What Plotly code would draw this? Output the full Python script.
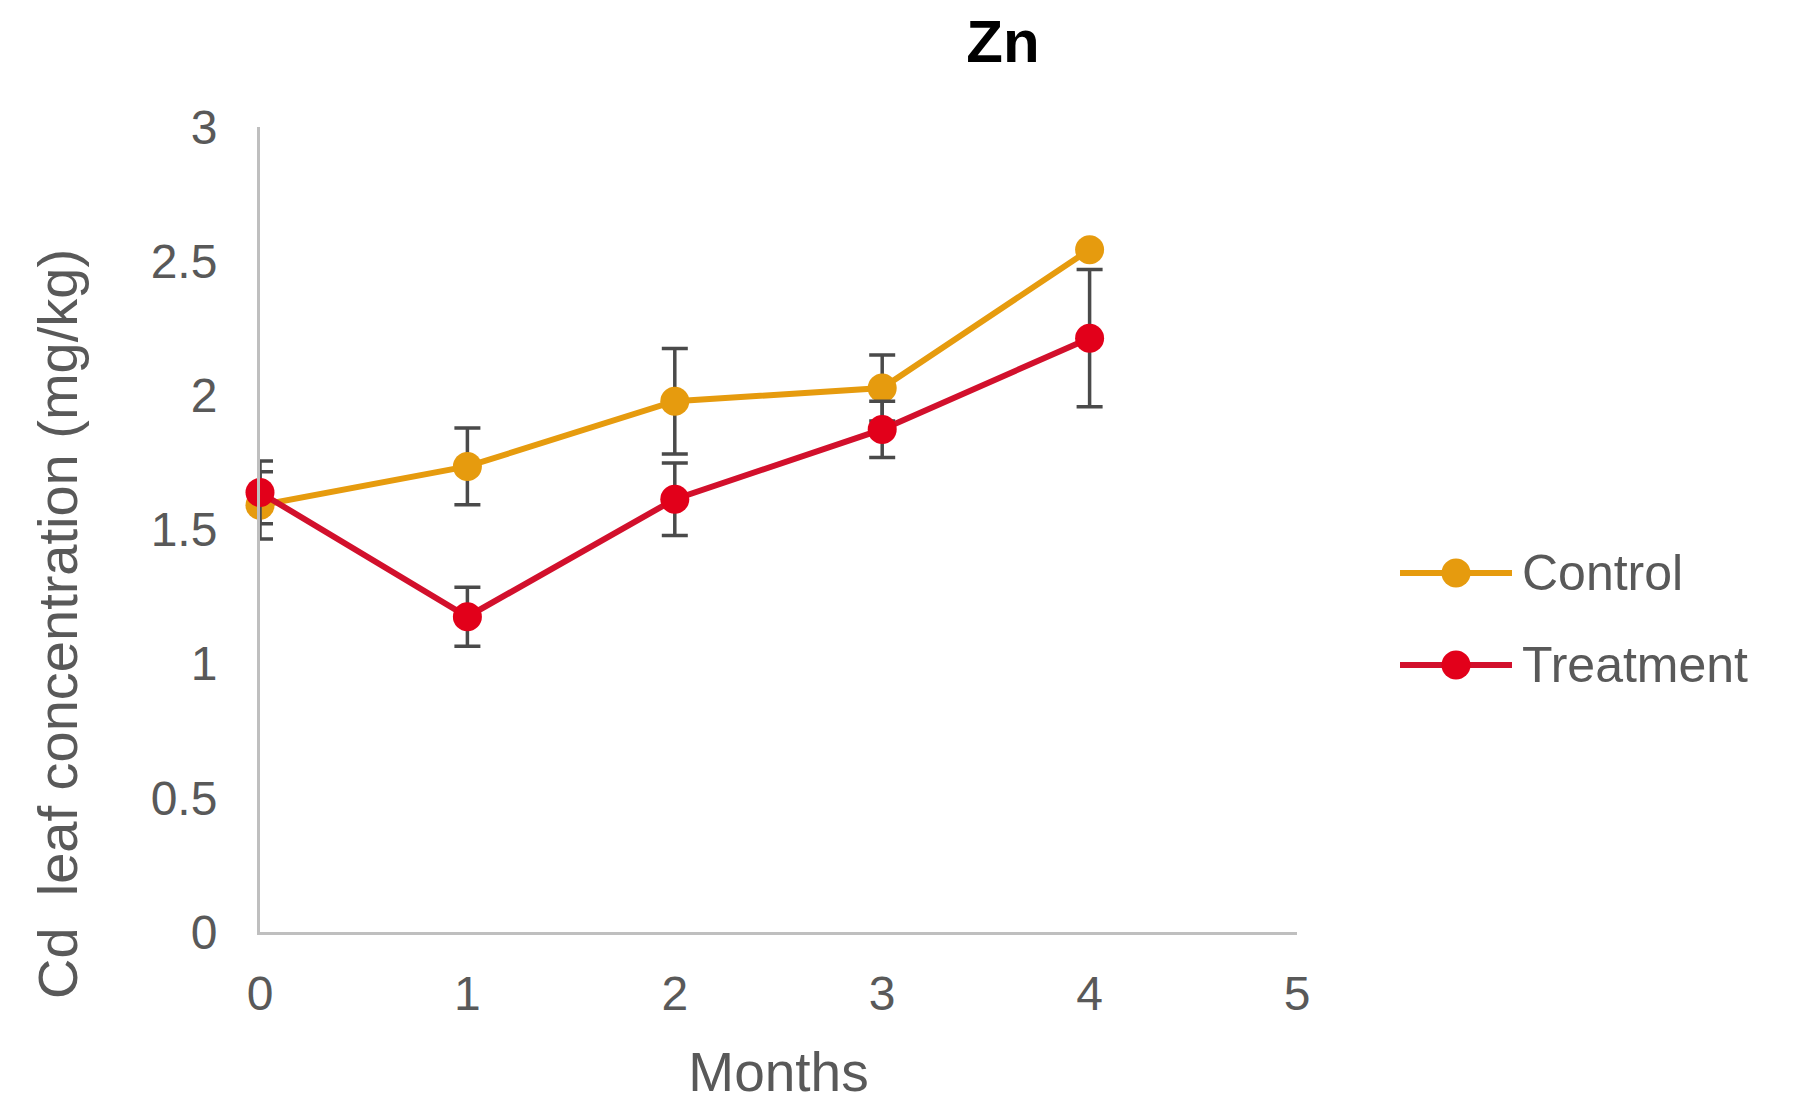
import plotly.graph_objects as go

# Monthly Zn-plot data: mean leaf concentration with standard error
months = [0, 1, 2, 3, 4]
control = [1.59, 1.735, 1.978, 2.027, 2.543]
control_err = [0.125, 0.143, 0.197, 0.123, 0.0]
treatment = [1.638, 1.175, 1.613, 1.873, 2.213]
treatment_err = [0.117, 0.11, 0.135, 0.105, 0.256]

series_names = ["Control", "Treatment"]
x_ticks = [0, 1, 2, 3, 4, 5]
y_ticks = [0, 0.5, 1, 1.5, 2, 2.5, 3]
y_tick_text = ["0", "0.5", "1", "1.5", "2", "2.5", "3"]

ORANGE = "#E69B0E"
RED = "#E2001A"
RED_LINE = "#D2102C"
ERR = "#4A4A4A"
TEXT = "#595959"
AXIS = "#BFBFBF"
FONT = "Arial, Liberation Sans, sans-serif"
W, H = 1798, 1103
ML, MR, MT, MB = 260, 501, 127, 171
PW, PH = W - ML - MR, H - MT - MB


def px(x):
    # pixel column -> paper x (paper spans the plot area)
    return (x - ML) / PW


def py(y):
    # pixel row -> paper y
    return (H - MB - y) / PH


fig = go.Figure()

for name, ys, errs, lc, mc in [
    (series_names[0], control, control_err, ORANGE, ORANGE),
    (series_names[1], treatment, treatment_err, RED_LINE, RED),
]:
    fig.add_trace(go.Scatter(
        x=months, y=ys, name=name, mode="lines+markers",
        line=dict(color=lc, width=6),
        marker=dict(color=mc, size=29),
        error_y=dict(type="data", array=errs, visible=True,
                     color=ERR, thickness=3.5, width=13),
        cliponaxis=False, showlegend=False,
    ))

# Legend keys drawn as shapes so the key line is as long as in the chart style
shapes = []
annotations = []
key_x0, key_x1 = 1400, 1512
for i, (name, lc, mc) in enumerate([(series_names[0], ORANGE, ORANGE),
                                     (series_names[1], RED_LINE, RED)]):
    yc = 573 + i * 92
    shapes.append(dict(type="line", xref="paper", yref="paper",
                       x0=px(key_x0), x1=px(key_x1), y0=py(yc), y1=py(yc),
                       line=dict(color=lc, width=6)))
    r = 14.5
    xm = (key_x0 + key_x1) / 2
    shapes.append(dict(type="circle", xref="paper", yref="paper",
                       x0=px(xm - r), x1=px(xm + r),
                       y0=py(yc + r), y1=py(yc - r),
                       fillcolor=mc, line=dict(color=mc, width=0)))
    annotations.append(dict(text=name, xref="paper", yref="paper",
                            x=px(key_x1 + 8), y=py(yc),
                            xanchor="left", yanchor="middle", showarrow=False,
                            font=dict(size=50, color=TEXT, family=FONT)))

# Y-axis title, placed lower than the axis centre
annotations.append(dict(text="Cd\u00a0 leaf concentration (mg/kg)",
                        xref="paper", yref="paper", x=px(57), y=py(624),
                        xanchor="center", yanchor="middle", textangle=-90,
                        showarrow=False,
                        font=dict(size=56, color=TEXT, family=FONT)))

fig.update_layout(
    width=W, height=H,
    paper_bgcolor="white", plot_bgcolor="white",
    margin=dict(l=ML, r=MR, t=MT, b=MB, autoexpand=False),
    font=dict(family=FONT, color=TEXT),
    title=dict(text="<b>Zn</b>", x=1003 / W, xanchor="center",
               y=1 - 41 / H, yanchor="middle",
               font=dict(size=60, color="black", family=FONT)),
    showlegend=False,
    shapes=shapes,
    annotations=annotations,
    xaxis=dict(range=[0, 5], tickvals=x_ticks, showgrid=False, zeroline=False,
               showline=True, linecolor=AXIS, linewidth=3,
               ticks="outside", ticklen=17, tickcolor="rgba(0,0,0,0)",
               tickfont=dict(size=48, color=TEXT),
               title=dict(text="Months", font=dict(size=55, color=TEXT),
                          standoff=38)),
    yaxis=dict(range=[0, 3], tickvals=y_ticks, ticktext=y_tick_text,
               showgrid=False, zeroline=False,
               showline=True, linecolor=AXIS, linewidth=3,
               ticks="outside", ticklen=30, tickcolor="rgba(0,0,0,0)",
               tickfont=dict(size=48, color=TEXT)),
)

fig.write_html("out.html")
